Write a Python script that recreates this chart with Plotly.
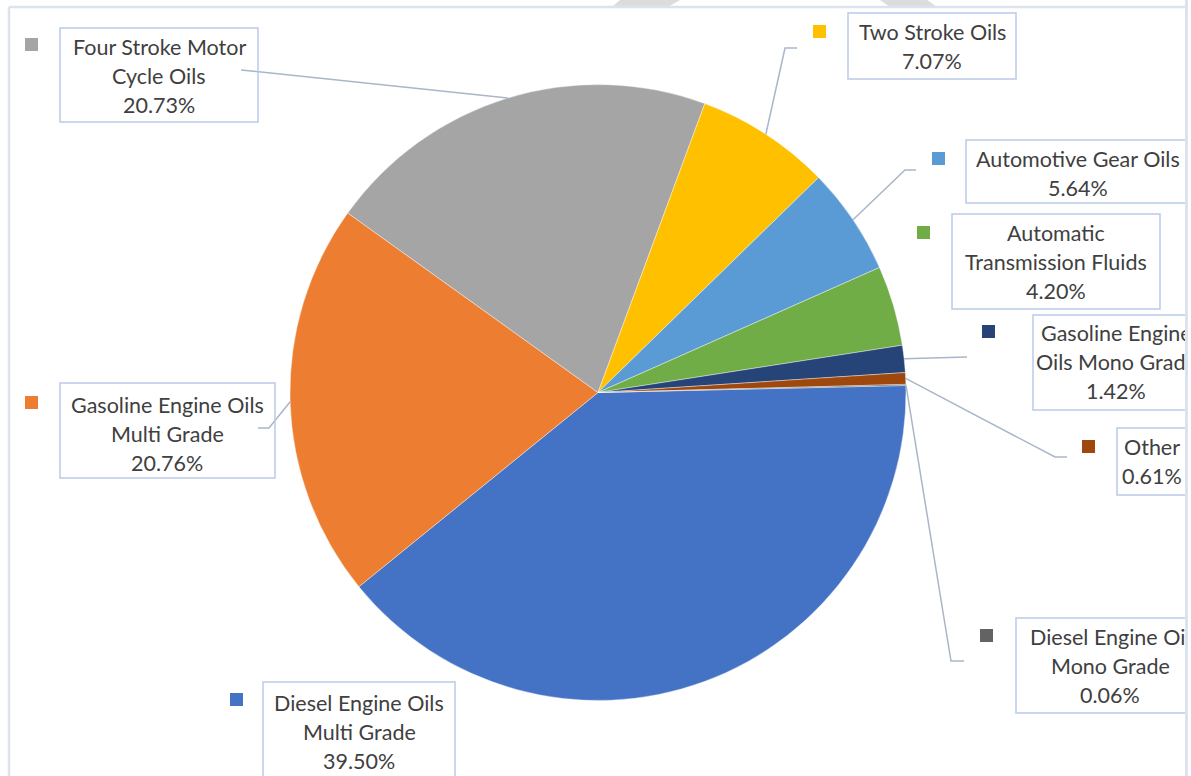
import math
import plotly.graph_objects as go

W, H = 1191, 776

# Market share by lubricant segment (%)
categories = [
    "Diesel Engine Oils Multi Grade",
    "Gasoline Engine Oils Multi Grade",
    "Four Stroke Motor Cycle Oils",
    "Two Stroke Oils",
    "Automotive Gear Oils",
    "Automatic Transmission Fluids",
    "Gasoline Engine Oils Mono Grade",
    "Other",
    "Diesel Engine Oil Mono Grade",
]
shares = [39.50, 20.76, 20.73, 7.07, 5.64, 4.20, 1.42, 0.61, 0.06]
label_lines = [
    ["Diesel Engine Oils", "Multi Grade"],
    ["Gasoline Engine Oils", "Multi Grade"],
    ["Four Stroke Motor", "Cycle Oils"],
    ["Two Stroke Oils"],
    ["Automotive Gear Oils"],
    ["Automatic", "Transmission Fluids"],
    ["Gasoline Engine", "Oils Mono Grade"],
    ["Other"],
    ["Diesel Engine Oil", "Mono Grade"],
]
colors = ["#4472C4", "#ED7D31", "#A5A5A5", "#FFC000", "#5B9BD5",
          "#70AD47", "#264478", "#9E480E", "#636363"]

# Pie geometry in pixels
CX, CY, R = 598, 392.5, 308
ROTATION = 88.7

# Callout placement: box (x0, y0, x1, y1), text centre x, first line y,
# legend key (x, y) and leader elbow points (None = no leader)
callouts = {
    "Diesel Engine Oils Multi Grade": dict(box=(263, 682, 455, 800), cx=359, y=703, key=(230, 693), lead=None),
    "Gasoline Engine Oils Multi Grade": dict(box=(60, 383, 275, 478), cx=167, y=405, key=(25, 396), lead=[(269, 428), (258, 428)]),
    "Four Stroke Motor Cycle Oils": dict(box=(60, 28, 258, 122), cx=159, y=47, key=(25, 38), lead=[(241, 70)]),
    "Two Stroke Oils": dict(box=(848, 13, 1016, 79), cx=932, y=32, key=(813, 25), lead=[(785, 48), (797, 48)]),
    "Automotive Gear Oils": dict(box=(966, 140, 1200, 203), cx=1078, y=159, key=(932, 152), lead=[(905, 170), (916, 170)]),
    "Automatic Transmission Fluids": dict(box=(952, 214, 1160, 309), cx=1056, y=233, key=(917, 226), lead=None),
    "Gasoline Engine Oils Mono Grade": dict(box=(1033, 315, 1200, 410), cx=1116, y=333, key=(982, 325), lead=[(967, 357)]),
    "Other": dict(box=(1117, 428, 1200, 495), cx=1152, y=447, key=(1082, 440), lead=[(1055, 457), (1067, 457)]),
    "Diesel Engine Oil Mono Grade": dict(box=(1016, 618, 1204, 713), cx=1110, y=637, key=(980, 629), lead=[(951, 661), (964, 661)]),
}

LINE_H = 29
FONT = dict(family="Lato", size=21.5, color="#404040")
BOX_COLOR = "#b9cae6"
LEAD_COLOR = "#a9b6c9"
FRAME_COLOR = "#dde3ed"


def px(x):
    return x / W


def py(y):
    return 1 - y / H


fig = go.Figure(go.Pie(
    labels=categories,
    values=shares,
    sort=False,
    direction="clockwise",
    rotation=ROTATION,
    marker=dict(colors=colors, line=dict(color="white", width=0.4)),
    textinfo="none",
    hoverinfo="label+percent",
    showlegend=False,
    domain=dict(x=[px(CX - R), px(CX + R)], y=[py(CY + R), py(CY - R)]),
))

shapes = []
annotations = []

# chart frame
shapes.append(dict(type="line", xref="paper", yref="paper", x0=px(9), x1=px(1187), y0=py(7), y1=py(7),
                   line=dict(color=FRAME_COLOR, width=2.5)))
shapes.append(dict(type="line", xref="paper", yref="paper", x0=px(9), x1=px(9), y0=py(7), y1=py(H + 5),
                   line=dict(color=FRAME_COLOR, width=2.5)))

# faint backdrop strokes along the top edge
for pts in ([(612, 7), (620, 0), (680, 0), (668, 7)], [(890, 7), (880, 0), (927, 0), (937, 7)]):
    path = "M " + " L ".join(f"{px(a)},{py(b)}" for a, b in pts) + " Z"
    shapes.append(dict(type="path", xref="paper", yref="paper", path=path,
                       fillcolor="#dcdcdc", line=dict(width=0), layer="below"))

total = sum(shares)
cum = 0.0
for cat, val, lines, col in zip(categories, shares, label_lines, colors):
    mid = ROTATION + 360 * (cum + val / 2) / total
    cum += val
    ax = CX + R * math.sin(math.radians(mid))
    ay = CY - R * math.cos(math.radians(mid))
    c = callouts[cat]

    if c["lead"]:
        pts = [(ax, ay)] + c["lead"]
        path = "M " + " L ".join(f"{px(a)},{py(b)}" for a, b in pts)
        shapes.append(dict(type="path", xref="paper", yref="paper", path=path,
                           line=dict(color=LEAD_COLOR, width=1.5)))

    x0, y0, x1, y1 = c["box"]
    shapes.append(dict(type="rect", xref="paper", yref="paper", x0=px(x0), x1=px(x1), y0=py(y0), y1=py(y1),
                       line=dict(color=BOX_COLOR, width=1.5), fillcolor="rgba(0,0,0,0)"))

    kx, ky = c["key"]
    shapes.append(dict(type="rect", xref="paper", yref="paper", x0=px(kx), x1=px(kx + 13),
                       y0=py(ky), y1=py(ky + 13), line=dict(width=0), fillcolor=col))

    text_lines = lines + [f"{val:.2f}%"]
    for i, t in enumerate(text_lines):
        annotations.append(dict(xref="paper", yref="paper", x=px(c["cx"]), y=py(c["y"] + i * LINE_H),
                                text=t, showarrow=False, xanchor="center", yanchor="middle", font=FONT))

# right edge of the chart area clips overflowing callouts
annotations.append(dict(xref="paper", yref="paper", x=px(1185), y=0.5, xanchor="left", yanchor="middle",
                        text=" ", showarrow=False, width=3, height=H + 10, bgcolor=FRAME_COLOR,
                        borderpad=0, borderwidth=0))
annotations.append(dict(xref="paper", yref="paper", x=px(1188), y=0.5, xanchor="left", yanchor="middle",
                        text=" ", showarrow=False, width=20, height=H + 10, bgcolor="white",
                        borderpad=0, borderwidth=0))

fig.update_layout(
    width=W, height=H,
    margin=dict(l=0, r=0, t=0, b=0),
    paper_bgcolor="white",
    plot_bgcolor="white",
    shapes=shapes,
    annotations=annotations,
)

fig.write_html("out.html")
